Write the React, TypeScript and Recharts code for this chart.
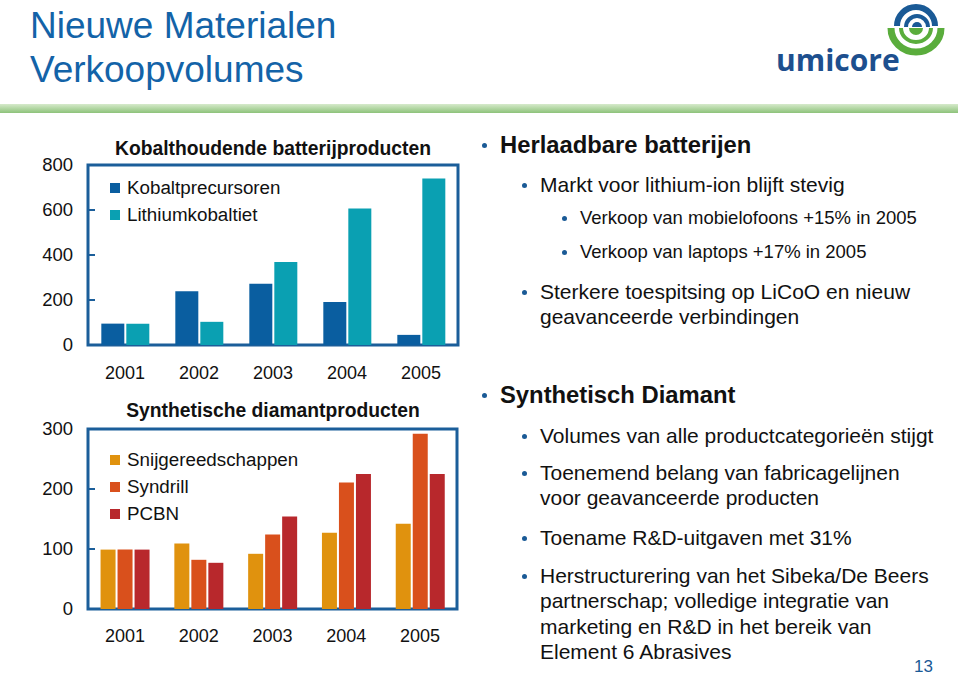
import { BarChart, Bar, XAxis, YAxis, Legend, ReferenceArea } from "recharts";

const years = ["2001", "2002", "2003", "2004", "2005"];

// Kobalthoudende batterijproducten
const kobaltprecursoren = [95, 239, 272, 191, 45];
const lithiumkobaltiet = [95, 103, 369, 607, 740];
const batteryTicks = [0, 200, 400, 600, 800];

// Synthetische diamantproducten
const snijgereedschappen = [99, 109, 92, 127, 142];
const syndrill = [99, 82, 124, 211, 292];
const pcbn = [99, 77, 154, 225, 225];
const diamondTicks = [0, 100, 200, 300];

const FRAME = "#1b5e9a";
const FONT = "'Liberation Sans', Arial, sans-serif";

const batteryData = years.map((year, i) => ({
  year,
  kobalt: kobaltprecursoren[i],
  lithium: lithiumkobaltiet[i],
}));

const diamondData = years.map((year, i) => ({
  year,
  snij: snijgereedschappen[i],
  syndrill: syndrill[i],
  pcbn: pcbn[i],
}));

const YTick = ({ x, y, payload }: any) => (
  <g>
    <text x={x} y={y} dy={6} textAnchor="end" fontSize={18.5} fill="#111" fontFamily={FONT}>
      {payload.value}
    </text>
    <line x1={x + 15} x2={x + 22} y1={y} y2={y} stroke={FRAME} strokeWidth={2} />
  </g>
);

// keep the legend in series order (recharts sorts it by name otherwise)
const LegendBox = ({ payload }: any) => {
  const items = [...payload].sort((a: any, b: any) => (a.payload?.order ?? 0) - (b.payload?.order ?? 0));
  return (
    <div style={{ fontFamily: FONT }}>
      {items.map((p: any) => (
        <div key={p.value} style={{ display: "flex", alignItems: "center", height: 27, whiteSpace: "nowrap" }}>
          <div style={{ width: 10, height: 10, background: p.color, marginRight: 7 }} />
          <span style={{ fontSize: 18.8, color: "#111" }}>{p.value}</span>
        </div>
      ))}
    </div>
  );
};

function ChartTitle({ text, top }: { text: string; top: number }) {
  return (
    <div
      style={{
        position: "absolute",
        left: 73,
        width: 400,
        top,
        textAlign: "center",
        fontFamily: FONT,
        fontWeight: "bold",
        fontSize: 19.3,
        color: "#111",
        whiteSpace: "nowrap",
      }}
    >
      {text}
    </div>
  );
}

function Bullet({ level, top, children }: { level: 1 | 2 | 3; top: number; children: any }) {
  const left = level === 1 ? 481 : level === 2 ? 521 : 561;
  const size = level === 1 ? 23.8 : level === 2 ? 21 : 18.5;
  const lh = level === 3 ? 22 : 25.3;
  return (
    <div
      style={{
        position: "absolute",
        left,
        top,
        fontFamily: FONT,
        fontSize: size,
        lineHeight: `${lh}px`,
        fontWeight: level === 1 ? "bold" : "normal",
        color: "#111",
        whiteSpace: "nowrap",
        paddingLeft: 19,
      }}
    >
      <div
        style={{
          position: "absolute",
          left: 1,
          top: lh / 2 - 2,
          width: 5,
          height: 5,
          borderRadius: "50%",
          background: "#1a5a96",
        }}
      />
      {children}
    </div>
  );
}

function Logo() {
  return (
    <div style={{ position: "absolute", left: 772, top: 0, width: 180, height: 80 }}>
      <svg width={180} height={80}>
        <g transform="translate(144,26)">
          <path d="M -19 0 A 19 19 0 0 1 19 0" fill="none" stroke="#1a5a96" strokeWidth={6} />
          <path d="M -10 1 A 11 11 0 0 1 12 1" fill="none" stroke="#1a5a96" strokeWidth={4} />
          <path d="M -4 1 A 5 5 0 0 1 6 1 Z" fill="#1a5a96" />
          <path d="M -25 2 A 25 24 0 0 0 25 2" fill="none" stroke="#5aad3c" strokeWidth={7} />
          <path d="M -15 2 A 15 14 0 0 0 15 2" fill="none" stroke="#5aad3c" strokeWidth={4} />
          <path d="M -7 2 A 7 7 0 0 0 7 2 Z" fill="#5aad3c" />
        </g>
        <text x={4} y={71} fontFamily="'Open Sans', sans-serif" fontWeight="bold" fontSize={30} fill="#1d4f8e">
          umicore
        </text>
      </svg>
    </div>
  );
}

export default function App() {
  return (
    <div style={{ position: "absolute", left: 0, top: 0, width: 960, height: 679, background: "#fff", overflow: "hidden" }}>
      <div
        style={{
          position: "absolute",
          left: 30,
          top: 4,
          fontFamily: FONT,
          fontSize: 37,
          lineHeight: "44px",
          color: "#1363a8",
          whiteSpace: "nowrap",
        }}
      >
        Nieuwe Materialen
        <br />
        Verkoopvolumes
      </div>
      <div
        style={{
          position: "absolute",
          left: 0,
          top: 104,
          width: 958,
          height: 9,
          background: "linear-gradient(to bottom, #d6eacb, #8dc27a)",
        }}
      />
      <Logo />

      <ChartTitle text="Kobalthoudende batterijproducten" top={138} />
      <div style={{ position: "absolute", left: 0, top: 140 }}>
        <BarChart width={470} height={255} data={batteryData} margin={{ top: 25, right: 12, left: 0, bottom: 0 }} barCategoryGap="18%" barGap={2}>
          <XAxis dataKey="year" axisLine={false} tickLine={false} tickSize={0} tickMargin={21} height={50}
            tick={{ fill: "#111", fontSize: 18, fontFamily: FONT }} />
          <YAxis domain={[0, 800]} ticks={batteryTicks} width={88} axisLine={false} tickLine={false} tickSize={0} tickMargin={15} tick={<YTick />} />
          <Legend layout="vertical" align="center" verticalAlign="middle" wrapperStyle={{ left: 110, top: 34 }} content={<LegendBox />} />
          <Bar dataKey="kobalt" name="Kobaltprecursoren" fill="#0a5ea0" isAnimationActive={false} />
          <Bar dataKey="lithium" name="Lithiumkobaltiet" fill="#0aa0b2" isAnimationActive={false} />
          <ReferenceArea y1={0} y2={800} fill="none" stroke={FRAME} strokeWidth={3} ifOverflow="visible" />
        </BarChart>
      </div>

      <ChartTitle text="Synthetische diamantproducten" top={400} />
      <div style={{ position: "absolute", left: 0, top: 404 }}>
        <BarChart width={470} height={255} data={diamondData} margin={{ top: 25, right: 13, left: 0, bottom: 0 }} barCategoryGap="17%" barGap={2}>
          <XAxis dataKey="year" axisLine={false} tickLine={false} tickSize={0} tickMargin={20} height={50}
            tick={{ fill: "#111", fontSize: 18, fontFamily: FONT }} />
          <YAxis domain={[0, 300]} ticks={diamondTicks} width={88} axisLine={false} tickLine={false} tickSize={0} tickMargin={15} tick={<YTick />} />
          <Legend layout="vertical" align="center" verticalAlign="middle" wrapperStyle={{ left: 110, top: 42 }} content={<LegendBox />} />
          <Bar dataKey="snij" name="Snijgereedschappen" fill="#e0920e" isAnimationActive={false} order={0} />
          <Bar dataKey="syndrill" name="Syndrill" fill="#d9501c" isAnimationActive={false} order={1} />
          <Bar dataKey="pcbn" name="PCBN" fill="#b8282c" isAnimationActive={false} order={2} />
          <ReferenceArea y1={0} y2={300} fill="none" stroke={FRAME} strokeWidth={3} ifOverflow="visible" />
        </BarChart>
      </div>

      <Bullet level={1} top={132}>Herlaadbare batterijen</Bullet>
      <Bullet level={2} top={172}>Markt voor lithium-ion blijft stevig</Bullet>
      <Bullet level={3} top={207}>Verkoop van mobielofoons +15% in 2005</Bullet>
      <Bullet level={3} top={241}>Verkoop van laptops +17% in 2005</Bullet>
      <Bullet level={2} top={279}>
        Sterkere toespitsing op LiCoO en nieuw
        <br />
        geavanceerde verbindingen
      </Bullet>

      <Bullet level={1} top={382}>Synthetisch Diamant</Bullet>
      <Bullet level={2} top={423}>Volumes van alle productcategorieën stijgt</Bullet>
      <Bullet level={2} top={460}>
        Toenemend belang van fabricagelijnen
        <br />
        voor geavanceerde producten
      </Bullet>
      <Bullet level={2} top={525}>Toename R&amp;D-uitgaven met 31%</Bullet>
      <Bullet level={2} top={563}>
        Herstructurering van het Sibeka/De Beers
        <br />
        partnerschap; volledige integratie van
        <br />
        marketing en R&amp;D in het bereik van
        <br />
        Element 6 Abrasives
      </Bullet>

      <div style={{ position: "absolute", left: 914, top: 657, fontFamily: FONT, fontSize: 17, color: "#1a5a96" }}>13</div>
    </div>
  );
}
